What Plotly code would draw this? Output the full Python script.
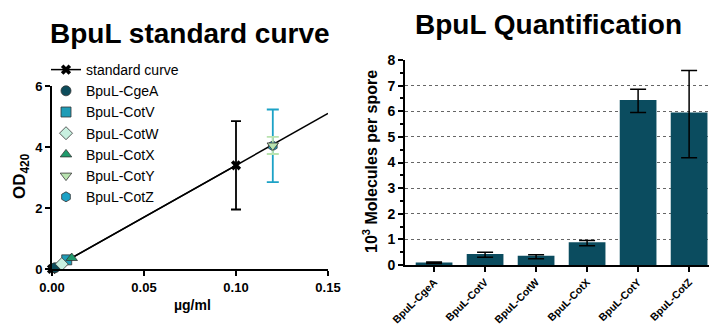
import numpy as np
import plotly.graph_objects as go

# ---------------- data ----------------
std_x = [0.0, 0.10]
std_y = [0.0, 3.40]
std_err = [0.0, 1.45]

sample_names = ["BpuL-CgeA", "BpuL-CotV", "BpuL-CotW", "BpuL-CotX", "BpuL-CotY", "BpuL-CotZ"]
sample_x = [0.0016, 0.0080, 0.0053, 0.0107, 0.120, 0.120]
sample_y = [0.04, 0.30, 0.16, 0.36, 4.05, 4.04]
sample_err = [0.0, 0.0, 0.0, 0.0, 0.28, 1.19]
sample_symbols = ["circle", "square", "diamond", "triangle-up", "triangle-down", "hexagon"]
sample_colors = ["#0d4c5b", "#1f9cb6", "#c8f0e0", "#1f9a6c", "#b9e3b0", "#1ca2c6"]

bar_labels = ["BpuL-CgeA", "BpuL-CotV", "BpuL-CotW", "BpuL-CotX", "BpuL-CotY", "BpuL-CotZ"]
bar_vals = [0.10, 0.43, 0.36, 0.89, 6.44, 5.95]
bar_err_plus = [0.02, 0.07, 0.04, 0.07, 0.42, 1.64]
bar_err_minus = [0.04, 0.13, 0.12, 0.14, 0.49, 1.76]

FONT = "Liberation Sans, Arial, sans-serif"
W, H = 709, 324

def px(x):
    return x / W

def py(y):
    return 1 - y / H

fig = go.Figure()

# fitted standard line
slope, intercept = np.polyfit(std_x, std_y, 1)
fit_x = np.array([0.0, 0.15])
fig.add_trace(go.Scatter(x=fit_x, y=slope * fit_x + intercept, mode="lines",
                         line=dict(color="black", width=1.5), showlegend=False,
                         hoverinfo="skip", xaxis="x", yaxis="y"))

fig.add_trace(go.Scatter(x=std_x, y=std_y, mode="lines+markers", name="standard curve",
                         line=dict(color="black", width=1.5),
                         marker=dict(symbol="x", size=9, color="black"),
                         error_y=dict(type="data", array=std_err, color="black", thickness=1.8, width=5),
                         cliponaxis=False, legendgroup="s", legendrank=1, xaxis="x", yaxis="y"))

# draw in order so CotZ error underneath CotY
order = [0, 1, 2, 3, 5, 4]
for i in order:
    fig.add_trace(go.Scatter(
        x=[sample_x[i]], y=[sample_y[i]], mode="markers", name=sample_names[i],
        marker=dict(symbol=sample_symbols[i], size=10, color=sample_colors[i],
                    line=dict(color="#333333", width=0.8)),
        error_y=dict(type="data", array=[sample_err[i]], color=sample_colors[i],
                     thickness=1.8, width=6, visible=sample_err[i] > 0),
        cliponaxis=False, legendgroup="g%d" % i, legendrank=i + 2,
        xaxis="x", yaxis="y"))

# bars
fig.add_trace(go.Bar(x=bar_labels, y=bar_vals, marker=dict(color="#0b4c5f", line=dict(width=0)),
                     error_y=dict(type="data", symmetric=False, array=bar_err_plus,
                                  arrayminus=bar_err_minus, color="black", thickness=1.5, width=8),
                     showlegend=False, xaxis="x2", yaxis="y2"))

fig.update_layout(
    width=W, height=H, margin=dict(l=0, r=0, t=0, b=0, autoexpand=False),
    plot_bgcolor="white", paper_bgcolor="white",
    font=dict(family=FONT, color="black"),
    bargap=0.28,
    showlegend=True,
    legend=dict(x=px(46), y=py(54), xanchor="left", yanchor="top",
                font=dict(size=14, family=FONT), bgcolor="rgba(0,0,0,0)",
                tracegroupgap=0),
    xaxis=dict(domain=[px(52), px(328)], range=[0, 0.15], tickvals=[0, 0.05, 0.10, 0.15],
               ticktext=["0.00", "0.05", "0.10", "0.15"], automargin=False,
               showline=True, linecolor="black", linewidth=2, ticks="outside", ticklen=5,
               tickwidth=2, tickcolor="black", showgrid=False, zeroline=False,
               tickfont=dict(size=13, family=FONT, weight="bold"), anchor="y"),
    yaxis=dict(domain=[py(269), py(86)], range=[0, 6], tickvals=[0, 2, 4, 6], automargin=False,
               showline=True, linecolor="black", linewidth=2, ticks="outside", ticklen=5,
               tickwidth=2, tickcolor="black", showgrid=False, zeroline=False,
               tickfont=dict(size=13, family=FONT, weight="bold"), anchor="x"),
    xaxis2=dict(domain=[px(405), 1.0], range=[-0.57, 5.39], automargin=False,
                showline=True, linecolor="black", linewidth=2, ticks="outside", ticklen=5,
                tickwidth=2, tickcolor="black", showgrid=False, zeroline=False,
                tickangle=-45, tickfont=dict(size=10.5, family=FONT, weight="bold"), anchor="y2"),
    yaxis2=dict(domain=[py(265), py(60)], range=[0, 8], dtick=1, automargin=False,
                showline=True, linecolor="black", linewidth=2, ticks="outside", ticklen=5,
                tickwidth=2, tickcolor="black", showgrid=True, gridcolor="#666666",
                griddash="dot", gridwidth=1, zeroline=False,
                minor=dict(ticks="outside", dtick=0.5, ticklen=3, tickwidth=1.5,
                           tickcolor="black", showgrid=False),
                tickfont=dict(size=14, family=FONT, weight="bold"), anchor="x2"),
    annotations=[
        dict(text="<b>BpuL standard curve</b>", x=px(190), y=py(33), xref="paper", yref="paper",
             xanchor="center", yanchor="middle", showarrow=False, font=dict(size=28, family=FONT)),
        dict(text="<b>BpuL Quantification</b>", x=px(548), y=py(24), xref="paper", yref="paper",
             xanchor="center", yanchor="middle", showarrow=False, font=dict(size=28, family=FONT)),
        dict(text="<b>OD<sub>420</sub></b>", x=px(21), y=py(176), xref="paper", yref="paper",
             xanchor="center", yanchor="middle", showarrow=False, textangle=-90,
             font=dict(size=17, family=FONT)),
        dict(text="<b>µg/ml</b>", x=px(192), y=py(305), xref="paper", yref="paper",
             xanchor="center", yanchor="middle", showarrow=False, font=dict(size=14, family=FONT)),
        dict(text="<b>10<sup>3</sup> Molecules per spore</b>", x=px(370), y=py(162), xref="paper",
             yref="paper", xanchor="center", yanchor="middle", showarrow=False, textangle=-90,
             font=dict(size=16, family=FONT)),
    ],
)

fig.write_html("out.html")
